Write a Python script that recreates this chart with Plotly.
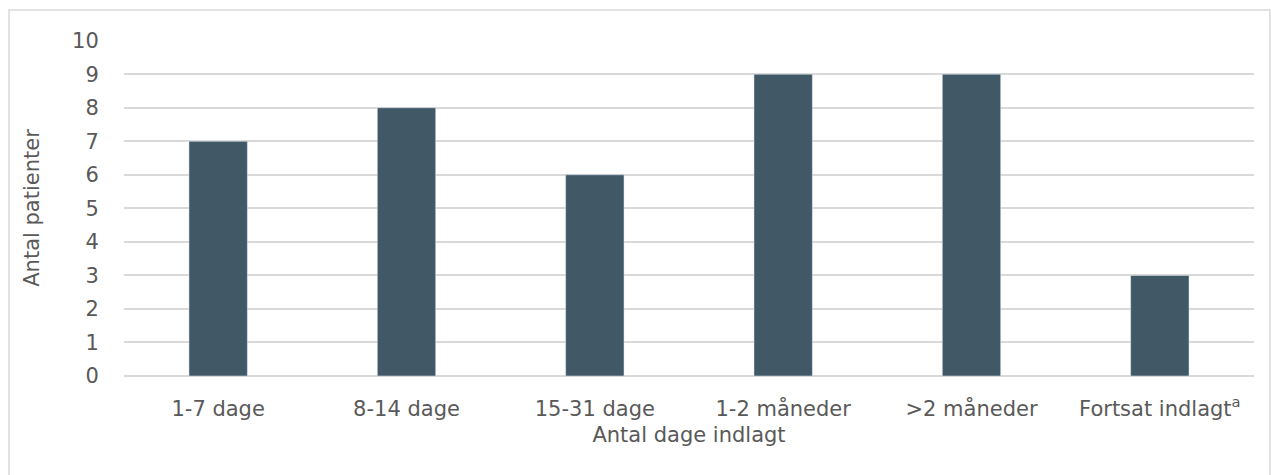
import plotly.graph_objects as go

categories = ["1-7 dage", "8-14 dage", "15-31 dage", "1-2 måneder", ">2 måneder",
              "Fortsat indlagt<sup>a</sup>"]
patients = [7, 8, 6, 9, 9, 3]
y_ticks = list(range(0, 11))

BAR = "#415866"
TEXT = "#595959"
GRID = "#d9d9d9"
FONT = "DejaVu Sans, Verdana, sans-serif"
FS = 21

W, H = 1271, 475
L, R, T, B = 124, 17, 40, 99
pw, ph = W - L - R, H - T - B

fig = go.Figure(go.Bar(x=categories, y=patients, marker_color=BAR, width=0.31))

def px_x(p):
    return (p - L) / pw

def px_y(p):
    return (H - B - p) / ph

fig.add_shape(type="rect", xref="paper", yref="paper",
              x0=px_x(9), x1=px_x(1270), y0=px_y(490), y1=px_y(10),
              line=dict(color=GRID, width=1.5), fillcolor="rgba(0,0,0,0)", layer="below")

fig.update_layout(
    width=W, height=H,
    margin=dict(l=L, r=R, t=T, b=B),
    paper_bgcolor="white", plot_bgcolor="white",
    font=dict(family=FONT, size=FS, color=TEXT),
    showlegend=False,
)
fig.update_xaxes(
    title=dict(text="Antal dage indlagt", font=dict(size=FS, color=TEXT), standoff=7),
    showgrid=False, showline=False, zeroline=False,
    ticks="outside", ticklen=14, tickcolor="rgba(0,0,0,0)",
    tickfont=dict(size=FS, color=TEXT),
)
fig.update_yaxes(
    title=dict(text="Antal patienter", font=dict(size=FS, color=TEXT), standoff=26),
    range=[0, 10.02], tickvals=y_ticks, showgrid=True, gridcolor=GRID, gridwidth=1.5,
    zeroline=True, zerolinecolor=GRID, zerolinewidth=1.5, showline=False,
    ticks="outside", ticklen=20, tickcolor="rgba(0,0,0,0)",
    tickfont=dict(size=FS, color=TEXT),
)

fig.write_html("out.html")
